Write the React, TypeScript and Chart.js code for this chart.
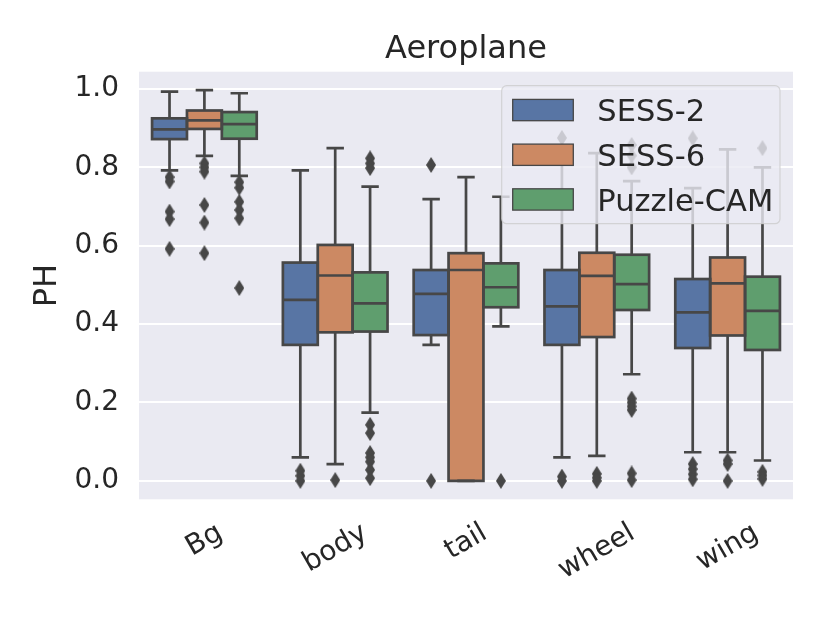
import React, { useEffect, useRef } from 'react';
import { Chart, registerables } from 'chart.js';

Chart.register(...registerables);

const categories = ['Bg', 'body', 'tail', 'wheel', 'wing'];
const seriesNames = ['SESS-2', 'SESS-6', 'Puzzle-CAM'];
const yTickValues = [0.0, 0.2, 0.4, 0.6, 0.8, 1.0];

// SESS-2
const sess2Low = [0.792, 0.060, 0.347, 0.060, 0.073];
const sess2Q1 = [0.872, 0.347, 0.372, 0.347, 0.339];
const sess2Median = [0.897, 0.462, 0.477, 0.445, 0.430];
const sess2Q3 = [0.925, 0.557, 0.538, 0.538, 0.515];
const sess2High = [0.993, 0.792, 0.719, 0.820, 0.747];
const sess2Outliers = [
  [0.775, 0.764, 0.687, 0.668, 0.592],
  [0.026, 0.013, 0.0],
  [0.806, 0.0],
  [0.875, 0.011, 0.0],
  [0.874, 0.043, 0.030, 0.017, 0.004],
];

// SESS-6
const sess6Low = [0.829, 0.043, 0.0, 0.064, 0.073];
const sess6Q1 = [0.898, 0.379, 0.0, 0.367, 0.371];
const sess6Median = [0.920, 0.524, 0.538, 0.523, 0.504];
const sess6Q3 = [0.945, 0.602, 0.581, 0.582, 0.570];
const sess6High = [0.997, 0.849, 0.775, 0.836, 0.846];
const sess6Outliers = [
  [0.810, 0.800, 0.789, 0.704, 0.659, 0.581],
  [0.002],
  [],
  [0.018, 0.008, 0.0],
  [0.052, 0.043, 0.0],
];

// Puzzle-CAM
const puzzleLow = [0.778, 0.174, 0.394, 0.272, 0.052];
const puzzleQ1 = [0.873, 0.381, 0.443, 0.436, 0.334];
const puzzleMedian = [0.910, 0.453, 0.494, 0.502, 0.434];
const puzzleQ3 = [0.941, 0.532, 0.555, 0.577, 0.521];
const puzzleHigh = [0.989, 0.751, 0.725, 0.765, 0.800];
const puzzleOutliers = [
  [0.762, 0.748, 0.712, 0.691, 0.670, 0.492],
  [0.823, 0.810, 0.798, 0.143, 0.122, 0.071, 0.060, 0.049, 0.028, 0.007],
  [0.0],
  [0.857, 0.830, 0.800, 0.210, 0.200, 0.190, 0.181, 0.019, 0.002],
  [0.849, 0.023, 0.014, 0.005],
];

const seriesColors = ['#5875A4', '#CC8963', '#5F9E6E'];
const LINE = '#474747';
const TEXT = '#262626';
const FONT = "'DejaVu Sans', 'Noto Sans', sans-serif";

const series = [
  { name: seriesNames[0], low: sess2Low, q1: sess2Q1, med: sess2Median, q3: sess2Q3, high: sess2High, out: sess2Outliers },
  { name: seriesNames[1], low: sess6Low, q1: sess6Q1, med: sess6Median, q3: sess6Q3, high: sess6High, out: sess6Outliers },
  { name: seriesNames[2], low: puzzleLow, q1: puzzleQ1, med: puzzleMedian, q3: puzzleQ3, high: puzzleHigh, out: puzzleOutliers },
];

let diamondCache: HTMLCanvasElement | null = null;
function getDiamond(): HTMLCanvasElement {
  if (diamondCache) return diamondCache;
  const c = document.createElement('canvas');
  c.width = 10;
  c.height = 16;
  const g = c.getContext('2d')!;
  g.fillStyle = LINE;
  g.beginPath();
  g.moveTo(5, 0);
  g.lineTo(10, 8);
  g.lineTo(5, 16);
  g.lineTo(0, 8);
  g.closePath();
  g.fill();
  diamondCache = c;
  return c;
}

const bgPlugin = {
  id: 'axesBg',
  beforeDraw(chart: any) {
    const { ctx, chartArea: a } = chart;
    ctx.save();
    ctx.fillStyle = '#ffffff';
    ctx.fillRect(0, 0, chart.width, chart.height);
    ctx.fillStyle = '#EAEAF2';
    ctx.fillRect(a.left, a.top, a.right - a.left, a.bottom - a.top);
    ctx.restore();
  },
};

const boxPlugin = {
  id: 'boxWhiskers',
  afterDatasetsDraw(chart: any) {
    const ctx = chart.ctx;
    const y = chart.scales.y;
    const dia = getDiamond();
    ctx.save();
    ctx.strokeStyle = LINE;
    ctx.lineWidth = 2.7;
    ctx.lineCap = 'butt';
    ctx.lineJoin = 'miter';
    series.forEach((s, d) => {
      const meta = chart.getDatasetMeta(d);
      meta.data.forEach((bar: any, i: number) => {
        const { x, width } = bar.getProps(['x', 'width'], true);
        const yq1 = y.getPixelForValue(s.q1[i]);
        const yq3 = y.getPixelForValue(s.q3[i]);
        const ylo = y.getPixelForValue(s.low[i]);
        const yhi = y.getPixelForValue(s.high[i]);
        const ymed = y.getPixelForValue(s.med[i]);
        ctx.beginPath();
        ctx.moveTo(x, yq3); ctx.lineTo(x, yhi);
        ctx.moveTo(x, yq1); ctx.lineTo(x, ylo);
        ctx.moveTo(x - width / 4, yhi); ctx.lineTo(x + width / 4, yhi);
        ctx.moveTo(x - width / 4, ylo); ctx.lineTo(x + width / 4, ylo);
        ctx.moveTo(x - width / 2, ymed); ctx.lineTo(x + width / 2, ymed);
        ctx.stroke();
        ctx.strokeRect(x - width / 2, yq3, width, yq1 - yq3);
        s.out[i].forEach((v) => {
          const py = y.getPixelForValue(v);
          ctx.drawImage(dia, x - dia.width / 2, py - dia.height / 2);
        });
      });
    });
    ctx.restore();
  },
};

const xLabelPlugin = {
  id: 'xLabels',
  afterDraw(chart: any) {
    const ctx = chart.ctx;
    const xs = chart.scales.x;
    const a = chart.chartArea;
    const fs = 28;
    const ang = Math.PI / 6;
    ctx.save();
    ctx.font = `${fs}px ${FONT}`;
    ctx.fillStyle = TEXT;
    ctx.textAlign = 'center';
    ctx.textBaseline = 'alphabetic';
    categories.forEach((lab, i) => {
      const px = xs.getPixelForValue(i);
      const w = ctx.measureText(lab).width;
      const h = 0.968 * fs;
      const H = w * Math.sin(ang) + h * Math.cos(ang);
      const cy = a.bottom + 20 + H / 2;
      ctx.save();
      ctx.translate(px, cy);
      ctx.rotate(-ang);
      ctx.fillText(lab, 0, 0.262 * fs);
      ctx.restore();
    });
    ctx.restore();
  },
};

const legendPlugin = {
  id: 'innerLegend',
  afterDraw(chart: any) {
    const ctx = chart.ctx;
    const a = chart.chartArea;
    const right = a.right - 13;
    const top = a.top + 14;
    const w = 278.3;
    const h = 138;
    const left = right - w;
    ctx.save();
    ctx.beginPath();
    (ctx as any).roundRect(left, top, w, h, 5);
    ctx.fillStyle = 'rgba(234,234,242,0.8)';
    ctx.fill();
    ctx.strokeStyle = 'rgba(204,204,204,0.8)';
    ctx.lineWidth = 1.2;
    ctx.stroke();
    const fs = 30.5;
    ctx.font = `${fs}px ${FONT}`;
    ctx.textAlign = 'left';
    ctx.textBaseline = 'alphabetic';
    series.forEach((s, k) => {
      const cy = top + 24.3 + k * 44.7;
      ctx.fillStyle = seriesColors[k];
      ctx.fillRect(left + 11, cy - 10.6, 60.6, 21.3);
      ctx.strokeStyle = LINE;
      ctx.lineWidth = 1.3;
      ctx.strokeRect(left + 11, cy - 10.6, 60.6, 21.3);
      ctx.fillStyle = TEXT;
      ctx.fillText(s.name, left + 95.6, cy + 0.729 * fs / 2);
    });
    ctx.restore();
  },
};

export default function App() {
  const ref = useRef<HTMLCanvasElement | null>(null);

  useEffect(() => {
    if (!ref.current) return;

    const boxDatasets = series.map((s, k) => ({
      type: 'bar' as const,
      label: s.name,
      data: categories.map((_, i) => [s.q1[i], s.q3[i]]),
      backgroundColor: seriesColors[k],
      borderWidth: 0,
      borderSkipped: false,
      categoryPercentage: 0.8,
      barPercentage: 1.0,
    }));

    const chart = new Chart(ref.current, {
      type: 'bar',
      data: {
        labels: categories,
        datasets: boxDatasets as any,
      },
      options: {
        animation: false,
        responsive: false,
        devicePixelRatio: 1,
        events: [],
        layout: { padding: { left: 0, right: 37, top: 0, bottom: 0 } },
        plugins: {
          legend: { display: false },
          tooltip: { enabled: false },
          title: {
            display: true,
            fullSize: false,
            text: 'Aeroplane',
            color: TEXT,
            font: { family: FONT, size: 32, weight: 'normal' },
            padding: { top: 30, bottom: 3.3 },
          },
        },
        scales: {
          x: {
            type: 'category',
            offset: true,
            grid: { display: false },
            border: { display: false },
            ticks: { display: false },
            afterFit: (s: any) => { s.height = 123.7; },
          },
          y: {
            type: 'linear',
            min: -0.047,
            max: 1.044,
            afterBuildTicks: (s: any) => { s.ticks = yTickValues.map((v) => ({ value: v })); },
            grid: { color: '#ffffff', lineWidth: 2, drawTicks: false },
            border: { display: false },
            ticks: {
              color: TEXT,
              font: { family: FONT, size: 28 },
              padding: 20,
              callback: (v: any) => Number(v).toFixed(1),
            },
            title: {
              display: true,
              text: 'PH',
              color: TEXT,
              font: { family: FONT, size: 32 },
              padding: { top: 28, bottom: 0 },
            },
            afterFit: (s: any) => { s.width = 139; },
          },
        },
      } as any,
      plugins: [bgPlugin, boxPlugin, xLabelPlugin, legendPlugin],
    });

    return () => chart.destroy();
  }, []);

  return (
    <div style={{ position: 'fixed', left: 0, top: 0, width: 830, height: 623, background: '#fff' }}>
      <canvas ref={ref} width={830} height={623} style={{ display: 'block', width: 830, height: 623 }} />
    </div>
  );
}
